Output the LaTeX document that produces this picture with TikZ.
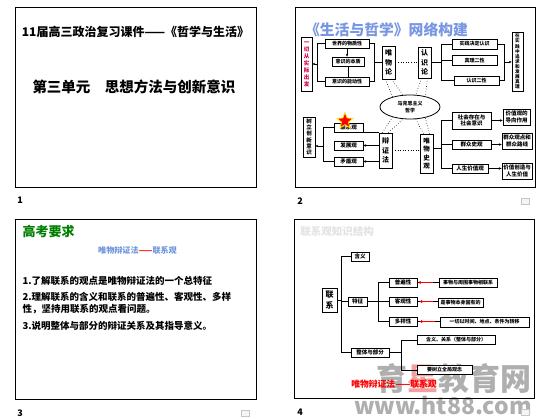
\documentclass[tikz,border=0pt]{standalone}
\usepackage{fontspec}
\setmainfont{Noto Sans CJK SC}
\usetikzlibrary{shapes.geometric,arrows.meta}
\newcommand\fsz[2]{\fontsize{#1}{#2}\selectfont}
\definecolor{ttlblue}{RGB}{120,150,225}
\definecolor{subblue}{RGB}{110,150,220}
\definecolor{ggreen}{RGB}{0,128,0}
\definecolor{vred}{RGB}{215,0,70}
\definecolor{wmgray}{RGB}{175,175,175}
\definecolor{wmpink}{RGB}{240,160,160}
\begin{document}
\begin{tikzpicture}[x=1pt,y=-1pt,
  frame/.style={draw=black,line width=0.8pt},
  bx/.style={draw, line width=0.8pt, inner sep=0pt, align=center, fill=white, font=\fsz{5}{6}\bfseries},
  bxs/.style={bx, font=\fsz{5.5}{6.5}\bfseries},
  vbx/.style={bx, font=\fsz{7}{9.5}\bfseries},
  conn/.style={line width=0.6pt},
  arr/.style={conn,-{Stealth[length=2.8pt,width=2.6pt]}},
  dotl/.style={line width=0.6pt, dotted},
  num/.style={font=\fsz{9}{10}\bfseries},
  icon/.style={draw=gray!45, fill=gray!8, line width=0.5pt, minimum width=8pt, minimum height=6pt, inner sep=0pt}
]
\fill[white] (0,0) rectangle (550,419);
\useasboundingbox (0,0) rectangle (550,419);

% ================= Slide 1 =================
\draw[frame] (15,7) rectangle (256,187);
\node[font=\fsz{12}{13}\bfseries] (s1t) at (135.5,32) {11届高三政治复习课件——《哲学与生活》};
\node[font=\fsz{14.5}{16}\bfseries] (s1s) at (134,87) {第三单元　思想方法与创新意识};
\node[num] (n1) at (20,200) {1};

% ================= Slide 2 =================
\draw[frame] (295,7) rectangle (535,187);
\node[font=\fsz{14.8}{16}\bfseries, text=ttlblue] (s2t) at (386.5,30) {《生活与哲学》网络构建};
\node[num] (n2) at (300,201) {2};
\node[icon] (ic2) at (525,201) {};

% top-left group
\node[bx, minimum width=11pt, minimum height=54pt, text=vred, font=\fsz{5.5}{7}\bfseries] (rb) at (306.5,64) {一\\切\\从\\实\\际\\出\\发};
\node[bx, minimum width=44pt, minimum height=9pt] (tl1) at (347,43.5) {世界的物质性};
\node[bx, minimum width=32pt, minimum height=9pt] (tl2) at (348,61.5) {意识的本质};
\node[bx, minimum width=44pt, minimum height=9pt] (tl3) at (347,81.5) {意识的能动性};
\node[vbx, minimum width=13pt, minimum height=33pt] (wwl) at (388.5,62.5) {唯\\物\\论};
\node[vbx, minimum width=13pt, minimum height=31pt] (rsl) at (424.5,62.5) {认\\识\\论};
% top-right group
\node[bx, minimum width=45pt, minimum height=10pt] (tr1) at (474.5,44) {实践决定认识};
\node[bx, minimum width=45pt, minimum height=10pt] (tr2) at (474.5,60.5) {真理二性};
\node[bx, minimum width=45pt, minimum height=9pt] (tr3) at (476.5,80.5) {认识二性};
\node[bx, minimum width=11pt, minimum height=59pt, font=\fsz{4.6}{5.1}\bfseries] (rv) at (517.5,61.5) {在\\实\\践\\中\\追\\求\\和\\发\\展\\真\\理};
% centre
\node[draw, ellipse, line width=0.8pt, minimum width=60pt, minimum height=24pt, inner sep=0pt, align=center, font=\fsz{5}{6.5}\bfseries] (ell) at (410,107) {马克思主义\\哲学};
% bottom-left group
\node[vbx, minimum width=13pt, minimum height=35pt] (bz) at (385.5,150.5) {辩\\证\\法};
\node[bx, minimum width=12pt, minimum height=40pt, font=\fsz{5.5}{6.3}\bfseries] (cx) at (309,137) {树\\立\\创\\新\\意\\识};
\node[bxs, minimum width=29pt, minimum height=9pt] (lx1) at (348.5,127.5) {联系观};
\node[bxs, minimum width=29pt, minimum height=9pt] (lx2) at (348.5,145.5) {发展观};
\node[bxs, minimum width=29pt, minimum height=9pt] (lx3) at (348.5,161.5) {矛盾观};
\node[star, star points=5, star point ratio=2.3, fill=red, draw=yellow, line width=0.8pt, minimum size=17pt, inner sep=0pt] (star) at (345,121) {};
% bottom-right group
\node[vbx, minimum width=13pt, minimum height=39pt, font=\fsz{6.5}{8.5}\bfseries] (ws) at (426.5,153.5) {唯\\物\\史\\观};
\node[bxs, minimum width=39pt, minimum height=17pt] (ss1) at (471.5,120.5) {社会存在与\\社会意识};
\node[bxs, minimum width=39pt, minimum height=9pt] (ss2) at (471.5,144.5) {群众史观};
\node[bxs, minimum width=36pt, minimum height=9pt] (ss3) at (470,168.5) {人生价值观};
\node[bxs, minimum width=27pt, minimum height=16pt] (r1) at (516.5,117) {价值观的\\导向作用};
\node[bxs, minimum width=30pt, minimum height=16pt] (r2) at (517,141) {群众观点和\\群众路线};
\node[bxs, minimum width=30pt, minimum height=16pt] (r3) at (517,171) {价值创造与\\人生价值};

% connectors slide 2
\draw[arr] (tl1.south) -- (tl1.south |- tl2.north);
\draw[conn] (tl2.south) -- (tl2.south |- tl3.north);
\coordinate (lk) at (317,64);
\draw[conn] (tl1.west) -- (tl1.west -| lk) -- (tl3.west -| lk) -- (tl3.west);
\draw[arr] (lk) -- (rb.east |- lk);
\coordinate (rk) at (374,62);
\draw[conn] (tl1.east) -- (tl1.east -| rk) -- (tl3.east -| rk) -- (tl3.east);
\draw[conn] (rk) -- (wwl.west |- rk);
\draw[dotl] (wwl.east) -- (rsl.west);
\coordinate (rk1) at (441,62.5);
\draw[conn] (rsl.east) -- (rk1);
\draw[conn] (tr1.west) -- (tr1.west -| rk1) -- (tr3.west -| rk1) -- (tr3.west);
\draw[conn] (tr2.west) -- (tr2.west -| rk1);
\coordinate (rk2) at (504,62);
\draw[conn] (tr1.east) -- (tr1.east -| rk2) -- (tr3.east -| rk2) -- (tr3.east);
\draw[arr] (rk2) -- (rv.west |- rk2);
\draw[dotl] ([xshift=-3pt]wwl.south) -- (ell.150);
\draw[dotl] ([xshift=3pt]wwl.south) -- (ell.120);
\draw[dotl] ([xshift=-3pt]rsl.south) -- (ell.65);
\draw[dotl] ([xshift=3pt]rsl.south) -- (ell.35);
\draw[dotl] ([xshift=-3pt]bz.north) -- (ell.210);
\draw[dotl] ([xshift=3pt]bz.north) -- (ell.240);
\draw[dotl] ([xshift=-3pt]ws.north) -- (ell.295);
\draw[dotl] ([xshift=3pt]ws.north) -- (ell.325);
\draw[dotl] (bz.east) -- (bz.east -| ws.west);
\coordinate (lk2) at (323,146);
\draw[conn] (lx1.west) -- (lx1.west -| lk2) -- (lx3.west -| lk2) -- (lx3.west);
\draw[arr] (lk2) -- (cx.east |- lk2);
\draw[conn] (lx1.south east) -- (lx1.south east -| bz.west);
\draw[arr] (bz.west |- lx2.east) -- (lx2.east);
\draw[arr] (bz.west |- lx3.east) -- (lx3.east);
\coordinate (rk3) at (441,148);
\draw[conn] (ws.east |- rk3) -- (rk3);
\draw[conn] (ss1.west) -- (ss1.west -| rk3) -- (ss3.west -| rk3) -- (ss3.west);
\draw[conn] (ss2.west) -- (ss2.west -| rk3);
\draw[arr] (ss1.east) -- (ss1.east -| r1.west);
\draw[arr] (ss2.east) -- (ss2.east -| r2.west);
\draw[arr] (ss3.east) -- (ss3.east -| r3.west);

% ================= Slide 3 =================
\draw[frame] (15,219) rectangle (256,399);
\node[font=\fsz{13}{14}\bfseries, text=ggreen, anchor=west] (s3t) at (19,232) {高考要求};
\node[font=\fsz{8.1}{9}\bfseries, text=subblue] (s3s) at (137.5,250) {唯物辩证法{\color{red}——}联系观};
\node[font=\fsz{9.5}{10}\bfseries, anchor=west] (l1) at (19,281) {1.了解联系的观点是唯物辩证法的一个总特征};
\node[font=\fsz{9.5}{10}\bfseries, anchor=west] (l2) at (19,297) {2.理解联系的含义和联系的普遍性、客观性、多样};
\node[font=\fsz{9.5}{10}\bfseries, anchor=west] (l2b) at (19,309) {性，坚持用联系的观点看问题。};
\node[font=\fsz{9.5}{10}\bfseries, anchor=west] (l3) at (19,326) {3.说明整体与部分的辩证关系及其指导意义。};
\node[num] (n3) at (20,413) {3};
\node[icon] (ic3) at (245,413) {};

% ================= Slide 4 =================
\node[font=\fsz{31}{32}\bfseries, text=wmgray] (wm1) at (454,379) {育{\color{wmpink}星}教育网};
\node[font=\fsz{23}{24}\bfseries, text=wmgray] (wm2) at (443,405) {www.ht88.com};
\draw[frame] (294,219) rectangle (534,398);
\node[font=\fsz{10.5}{11}\bfseries, text=gray!22] (s4t) at (337,232) {联系观知识结构};
\node[num] (n4) at (300,412) {4};
\node[icon] (ic4) at (525,412) {};

\node[bx, minimum width=15pt, minimum height=24pt, font=\fsz{8}{11}\bfseries] (lx0) at (329.5,300) {联\\系};
\node[bxs, minimum width=18pt, minimum height=9pt] (han) at (360,256.5) {含义};
\node[bxs, minimum width=19pt, minimum height=9pt] (tz) at (357.5,301.5) {特征};
\node[bxs, minimum width=38pt, minimum height=9pt] (zb) at (370,352.5) {整体与部分};
\node[bxs, minimum width=28pt, minimum height=9pt] (pb) at (403,282.5) {普遍性};
\node[bxs, minimum width=28pt, minimum height=9pt] (kg) at (403,301.5) {客观性};
\node[bxs, minimum width=28pt, minimum height=9pt] (dy) at (403,321.5) {多样性};
\node[bx, minimum width=58pt, minimum height=9pt] (d1) at (468,282.5) {事物与周围事物相联系};
\node[bx, minimum width=45pt, minimum height=9pt] (d2) at (460.5,302.5) {是事物本身固有的};
\node[bx, minimum width=89pt, minimum height=10pt] (d3) at (484.5,322) {一切以时间、地点、条件为转移};
\node[bx, minimum width=78pt, minimum height=9pt] (e1) at (456,340) {含义、关系（整体与部分）};
\node[bx, minimum width=55pt, minimum height=9pt] (e2) at (444.5,370) {要树立全局观念};
\node[font=\fsz{8.8}{10}\bfseries, text=red] (s4r) at (394,384) {唯物辩证法——联系观};

\coordinate (tk) at (341,300);
\draw[conn] (lx0.east) -- (tk);
\draw[conn] (han.west) -- (han.west -| tk) -- (zb.west -| tk) -- (zb.west);
\draw[conn] (tz.west) -- (tz.west -| tk);
\coordinate (bk) at (378,301.5);
\draw[conn] (tz.east) -- (bk);
\draw[conn] (pb.west) -- (pb.west -| bk) -- (dy.west -| bk) -- (dy.west);
\draw[conn] (kg.west) -- (kg.west -| bk);
\coordinate (bk2) at (401,352.5);
\draw[conn] (zb.east) -- (bk2);
\draw[conn] (e1.west) -- (e1.west -| bk2) -- (e2.west -| bk2) -- (e2.west);
\draw[conn] (pb.east) -- (pb.east -| d1.west);
\draw[conn] (kg.east) -- (kg.east -| d2.west);
\draw[conn] (dy.east) -- (dy.east -| d3.west);
\draw[red, line width=1.2pt, {Circle[length=2.4pt]}-] ([xshift=1.5pt]pb.east) -- ([xshift=16pt]pb.east);
\draw[red, line width=1.2pt, {Circle[length=2.4pt]}-] ([xshift=3pt]kg.east) -- ([xshift=16pt]kg.east);
\draw[red, line width=1.2pt, {Circle[length=2.4pt]}-] ([xshift=3pt]dy.east) -- ([xshift=18pt]dy.east);
\end{tikzpicture}
\end{document}
